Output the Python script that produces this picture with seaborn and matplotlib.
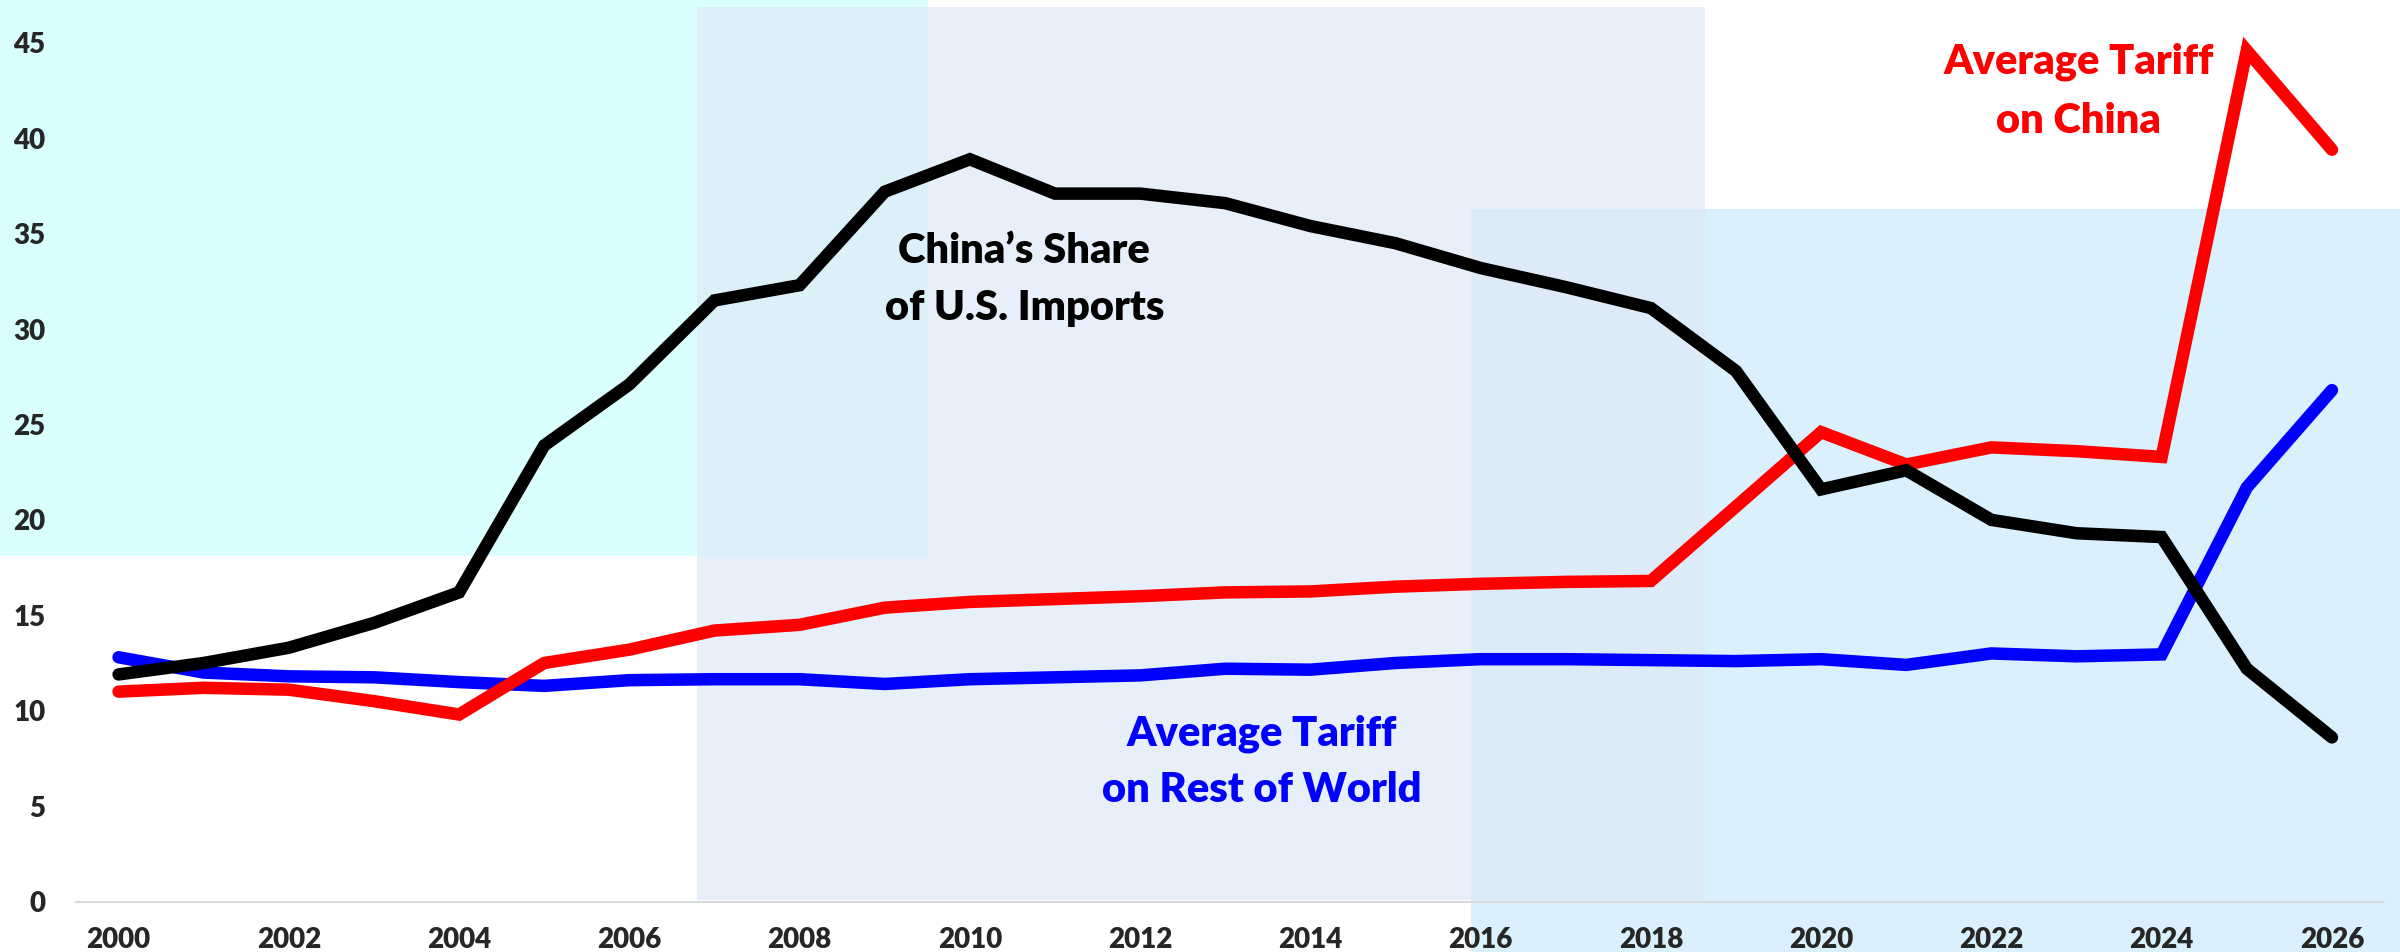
import matplotlib
matplotlib.use("Agg")
import matplotlib.pyplot as plt
import pandas as pd
import seaborn as sns
from matplotlib.patches import Rectangle

# values (percent)
years = list(range(2000, 2027))
china_share = [11.9, 12.5, 13.3, 14.6, 16.2, 23.9, 27.1, 31.5, 32.3, 37.2,
               38.9, 37.1, 37.1, 36.6, 35.4, 34.5, 33.2, 32.2, 31.1, 27.8,
               21.6, 22.6, 20.0, 19.3, 19.1, 12.2, 8.6]
tariff_china = [11.0, 11.2, 11.1, 10.5, 9.8, 12.5, 13.2, 14.2, 14.5, 15.4,
                15.7, 15.85, 16.0, 16.2, 16.25, 16.5, 16.65, 16.75, 16.8, 20.7,
                24.6, 22.9, 23.8, 23.6, 23.3, 44.6, 39.4]
tariff_row = [12.8, 12.0, 11.8, 11.75, 11.5, 11.3, 11.6, 11.65, 11.65, 11.4,
              11.65, 11.75, 11.85, 12.2, 12.15, 12.5, 12.7, 12.7, 12.65, 12.6,
              12.7, 12.4, 13.0, 12.85, 12.95, 21.7, 26.8]

x_ticks = list(range(2000, 2027, 2))
y_ticks = list(range(0, 50, 5))

series_names = ["Average Tariff on Rest of World", "Average Tariff on China",
                "China's Share of U.S. Imports"]
series_colors = ["#0000FF", "#FF0000", "#000000"]

df = pd.concat([
    pd.DataFrame({"year": years, "value": tariff_row, "series": series_names[0]}),
    pd.DataFrame({"year": years, "value": tariff_china, "series": series_names[1]}),
    pd.DataFrame({"year": years, "value": china_share, "series": series_names[2]}),
])

sns.set_theme(style="white")
plt.rcParams["font.family"] = ["Lato", "DejaVu Sans"]
plt.rcParams["font.weight"] = "bold"

W, H = 2400, 952
fig = plt.figure(figsize=(W / 100, H / 100), dpi=100)
ax = fig.add_axes([76 / W, 50.5 / H, (2383 - 76) / W, (901.5 - 7) / H])
ax.patch.set_alpha(0)


def shade(x0, y0, x1, y1, color, alpha=1.0):
    # box given in pixels from the top-left corner of the figure
    rect = Rectangle((x0 / W, 1 - y1 / H), (x1 - x0) / W, (y1 - y0) / H,
                     transform=fig.transFigure, facecolor=color, alpha=alpha,
                     edgecolor="none", zorder=-1)
    fig.add_artist(rect)


shade(1471, 209, 2400, 952, "#DBF0FD")
shade(0, 0, 928, 556, "#D9FFFF")
shade(697, 7, 1705, 900, (222 / 255, 234 / 255, 248 / 255), alpha=0.71)

sns.lineplot(data=df, x="year", y="value", hue="series", hue_order=series_names,
             palette=dict(zip(series_names, series_colors)), linewidth=9,
             legend=False, ax=ax)
for line in ax.get_lines():
    line.set_solid_capstyle("round")
    line.set_solid_joinstyle("miter")

ax.set_xlim(1999.5, 2026.6)
ax.set_ylim(0, 46.88)
ax.set_xticks(x_ticks)
ax.set_yticks(y_ticks)
ax.set_xlabel("")
ax.set_ylabel("")
ax.tick_params(axis="x", length=0, labelsize=20, pad=18)
ax.tick_params(axis="y", length=0, labelsize=20, pad=22)
for lbl in ax.get_xticklabels() + ax.get_yticklabels():
    lbl.set_fontweight("heavy")

for side in ["left", "top", "right"]:
    ax.spines[side].set_visible(False)
ax.spines["bottom"].set_color("#D9D9D9")
ax.spines["bottom"].set_linewidth(1.5)

label_size = 30
ax.text(2010.64, 33.46, "China\u2019s Share", ha="center", va="baseline",
        fontsize=label_size, fontweight="heavy", color="black")
ax.text(2010.64, 30.48, "of U.S. Imports", ha="center", va="baseline",
        fontsize=label_size, fontweight="heavy", color="black")
ax.text(2023.02, 43.37, "Average Tariff", ha="center", va="baseline",
        fontsize=label_size, fontweight="heavy", color="#FF0000")
ax.text(2023.02, 40.28, "on China", ha="center", va="baseline",
        fontsize=label_size, fontweight="heavy", color="#FF0000")
ax.text(2013.43, 8.20, "Average Tariff", ha="center", va="baseline",
        fontsize=label_size, fontweight="heavy", color="#0000FF")
ax.text(2013.43, 5.21, "on Rest of World", ha="center", va="baseline",
        fontsize=label_size, fontweight="heavy", color="#0000FF")

fig.savefig("out.png", dpi=100)
